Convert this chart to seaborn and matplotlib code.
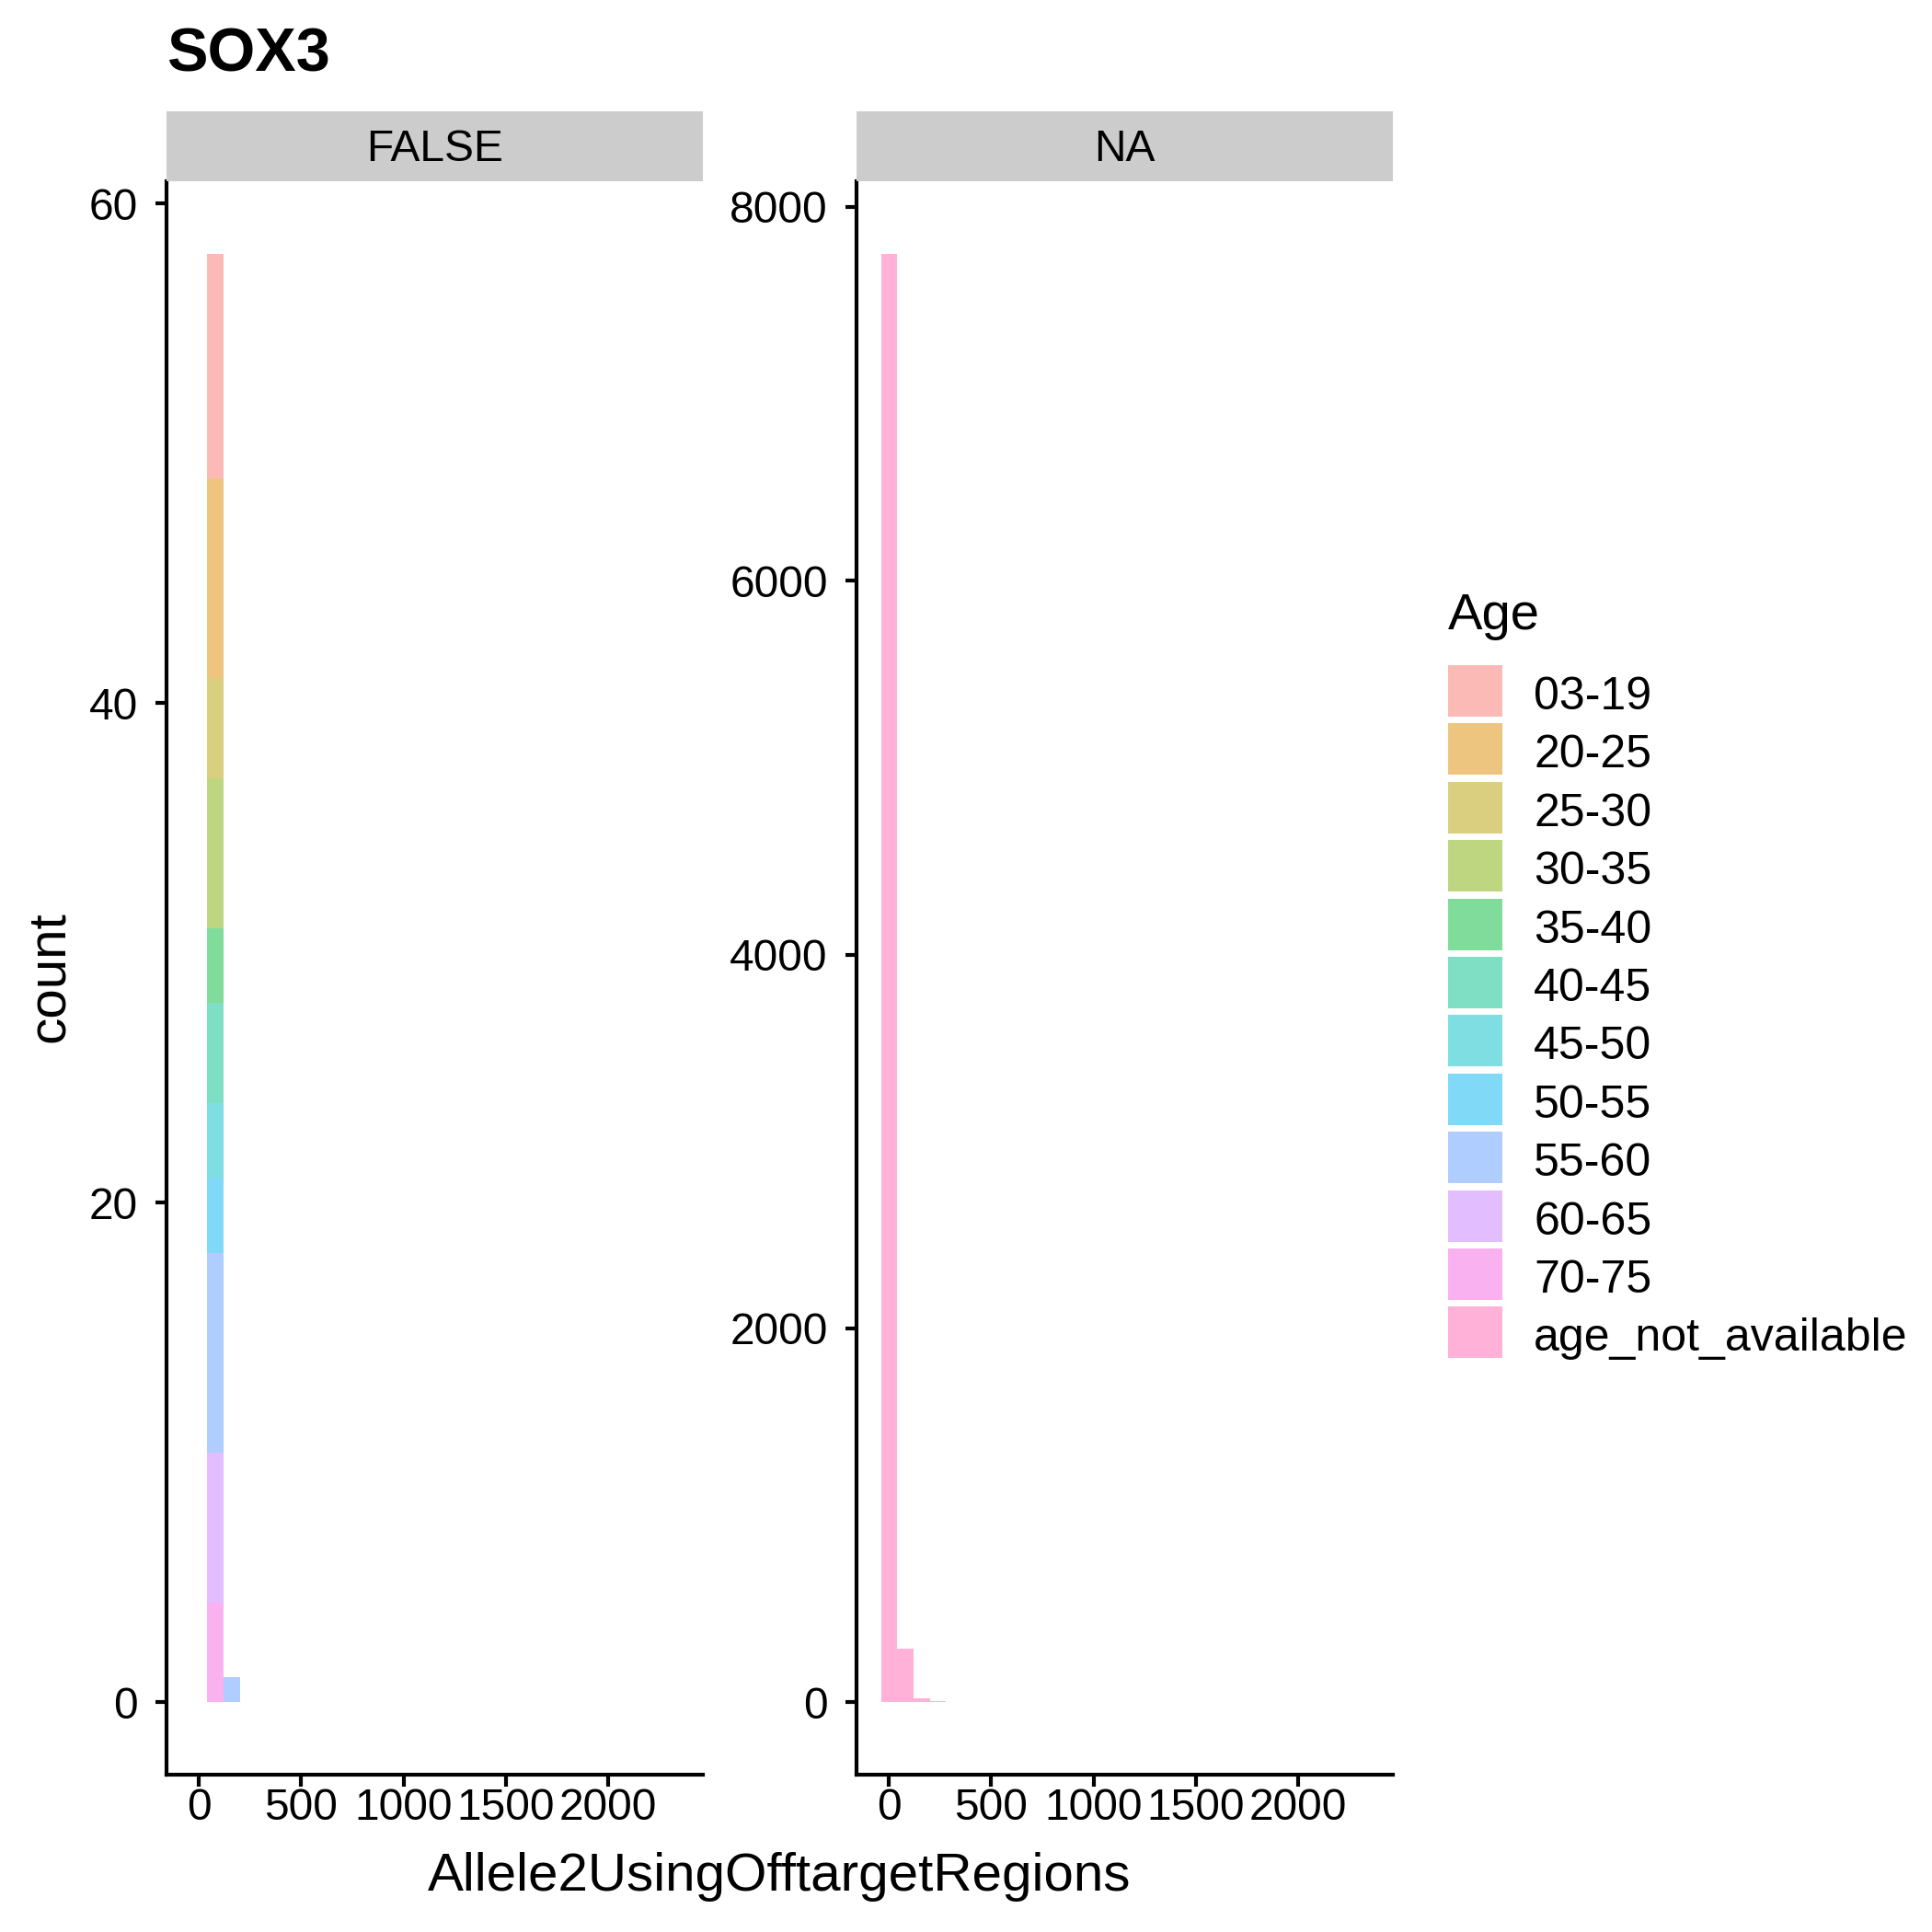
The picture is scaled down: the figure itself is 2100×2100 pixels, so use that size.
import numpy as np
import pandas as pd
import matplotlib
matplotlib.use("Agg")
import matplotlib.pyplot as plt
from matplotlib.patches import Rectangle
import seaborn as sns

# ---------------------------------------------------------
# Data
# ---------------------------------------------------------
age_groups = ["03-19", "20-25", "25-30", "30-35", "35-40", "40-45",
              "45-50", "50-55", "55-60", "60-65", "70-75", "age_not_available"]
age_colors = ["#F8766D", "#DE8C00", "#B79F00", "#7CAE00", "#00BA38", "#00C08B",
              "#00BFC4", "#00B4F0", "#619CFF", "#C77CFF", "#F564E3", "#FF64B0"]

# FALSE facet: two occupied bins, counts per age group
false_x = [79.5, 159.0]
false_counts_bin1 = [9, 8, 4, 6, 3, 4, 3, 3, 8, 6, 4, 0]
false_counts_bin2 = [0, 0, 0, 0, 0, 0, 0, 0, 1, 0, 0, 0]

# NA facet: everything is age_not_available
na_x = [0, 79.5, 159, 238.5, 318, 397.5, 477, 556.5, 636, 795, 1272, 1590, 2146.5, 2305.5]
na_counts = [7750, 285, 23, 8, 3, 2, 2, 1, 1, 1, 1, 1, 1, 1]

facets = ["FALSE", "NA"]
x_ticks = [0, 500, 1000, 1500, 2000]
y_ticks = {"FALSE": [0, 20, 40, 60], "NA": [0, 2000, 4000, 6000, 8000]}
y_lims = {"FALSE": (-2.9, 60.9), "NA": (-387.5, 8137.5)}

BIN_W = 79.5
N_BINS = 30


def build_frame():
    rows = []
    for age, c1, c2 in zip(age_groups, false_counts_bin1, false_counts_bin2):
        rows.append(("FALSE", age, false_x[0], c1))
        rows.append(("FALSE", age, false_x[1], c2))
    for x, n in zip(na_x, na_counts):
        rows.append(("NA", "age_not_available", x, n))
    df = pd.DataFrame(rows, columns=["facet", "Age", "Allele2UsingOfftargetRegions", "n"])
    return df[df["n"] > 0]


def main():
    sns.set_theme(style="ticks")
    plt.rcParams["font.family"] = ["Liberation Sans", "DejaVu Sans"]
    plt.rcParams["text.color"] = "black"
    plt.rcParams["axes.labelcolor"] = "black"

    df = build_frame()
    palette = dict(zip(age_groups, age_colors))
    lo = -BIN_W / 2
    hi = lo + N_BINS * BIN_W

    W = H = 2100
    fig = plt.figure(figsize=(7, 7), dpi=300)
    fig.patch.set_facecolor("white")

    panel_left = {"FALSE": 181, "NA": 931}
    panel_w = 583
    panel_top, panel_bot = 197, 1929
    strip_top = 121

    for facet in facets:
        x0 = panel_left[facet]
        ax = fig.add_axes([x0 / W, 1 - panel_bot / H, panel_w / W, (panel_bot - panel_top) / H])
        sub = df[df["facet"] == facet]
        sns.histplot(data=sub, x="Allele2UsingOfftargetRegions", weights="n", hue="Age",
                     hue_order=age_groups, palette=palette, multiple="stack",
                     binwidth=BIN_W, binrange=(lo, hi), alpha=0.5, linewidth=0,
                     legend=False, ax=ax)
        ax.set_xlim(-2 * BIN_W, (N_BINS + 1) * BIN_W)
        ax.set_ylim(*y_lims[facet])
        ax.set_xticks(x_ticks)
        ax.set_yticks(y_ticks[facet])
        ax.set_xlabel("")
        ax.set_ylabel("")
        ax.set_facecolor("white")
        ax.grid(False)
        for s in ["top", "right"]:
            ax.spines[s].set_visible(False)
        for s in ["left", "bottom"]:
            ax.spines[s].set_linewidth(1.0)
            ax.spines[s].set_color("black")
        ax.tick_params(axis="both", labelsize=11.5, length=3, width=1.0, color="black",
                       labelcolor="black")
        ax.tick_params(axis="y", pad=4.5)
        ax.tick_params(axis="x", pad=0.3)

        # facet strip
        sax = fig.add_axes([x0 / W, 1 - panel_top / H, panel_w / W, (panel_top - strip_top) / H])
        sax.set_facecolor("#CCCCCC")
        sax.set_xticks([])
        sax.set_yticks([])
        for s in sax.spines.values():
            s.set_visible(False)
        sax.text(0.5, 0.45, facet, ha="center", va="center", fontsize=11.5, color="black",
                 transform=sax.transAxes)

    fig.text(181 / W, 1 - 60 / H, "SOX3", fontsize=16, fontweight="bold", ha="left", va="center")
    fig.text(847 / W, 1 - 2040 / H, "Allele2UsingOfftargetRegions", fontsize=14,
             ha="center", va="center")
    fig.text(54 / W, 1 - 1062 / H, "count", fontsize=14, rotation=90, ha="center", va="center")

    # legend (ggplot style: square keys, left aligned title)
    key_x, key_w, key_h, pitch, first_top = 1574, 59, 56, 63.4, 723
    fig.text(key_x / W, 1 - 670 / H, "Age", fontsize=13.5, ha="left", va="center")
    for i, (lab, col) in enumerate(zip(age_groups, age_colors)):
        top = first_top + i * pitch
        fig.patches.append(Rectangle((key_x / W, 1 - (top + key_h) / H), key_w / W, key_h / H,
                                     transform=fig.transFigure, facecolor=col, alpha=0.5,
                                     linewidth=0, figure=fig))
        fig.text(1667 / W, 1 - (top + key_h / 2 + 7) / H, lab, fontsize=12,
                 ha="left", va="center")

    fig.savefig("out.png", dpi=300, facecolor="white")
    plt.close(fig)


if __name__ == "__main__":
    main()
